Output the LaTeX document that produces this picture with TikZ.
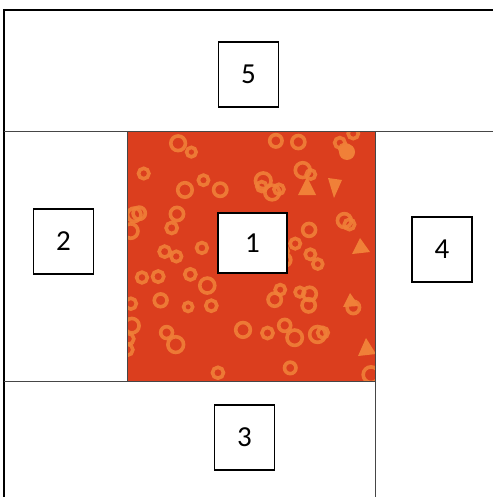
\documentclass[tikz,border=0pt]{standalone}
\usepackage{fontspec}
\setmainfont{Carlito}
\usepackage{tikz}
\usetikzlibrary{positioning}
\usepackage{xcolor}
\definecolor{fabricred}{RGB}{219,62,30}
\definecolor{fabricdot}{RGB}{240,128,56}
\definecolor{seamgray}{RGB}{70,70,70}

\tikzset{
	piece/.style={draw=black, line width=1.4pt, fill=white,
		minimum width=60pt, minimum height=65pt, inner sep=0pt,
		font=\fontsize{29}{33}\selectfont},
	seam/.style={draw=seamgray, line width=1pt}
}

\begin{document}
\begin{tikzpicture}[x=1pt, y=-1pt]
		
		\useasboundingbox (0,0) rectangle (493,497);
		
		% Center fabric
		\fill[fabricred] (127,132) rectangle (375,381);
		\begin{scope}
			\clip (127,132) rectangle (375,381);
			\pgfmathsetseed{11}
			\foreach \i in {1,...,62} {
				\pgfmathsetmacro{\px}{127+248*rnd}
				\pgfmathsetmacro{\py}{132+249*rnd}
				\pgfmathsetmacro{\pr}{4.5+3.5*rnd}
				\draw[fabricdot, line width=3.6pt, opacity=0.9] (\px,\py) circle (\pr);
			}
			% Triangles and hearts
			\fill[fabricdot] (307,177) -- (316,195) -- (298,195) -- cycle;
			\fill[fabricdot] (328,178) -- (342,180) -- (334,198) -- cycle;
			\fill[fabricdot] (360,238) -- (370,252) -- (352,254) -- cycle;
			\fill[fabricdot] (350,293) -- (359,306) -- (343,307) -- cycle;
			\fill[fabricdot] (347,152) circle (8);
			\fill[fabricdot] (366,338) -- (376,354) -- (358,356) -- cycle;
		\end{scope}
		\draw[seam] (127,132) rectangle (375,381);
		
		% Seams
		\draw[black, line width=1.4pt] (3,10) -- (493,10);
		\draw[black, line width=1.4pt] (4,10) -- (4,497);
		\draw[seam] (4,132) -- (493,132);
		\draw[seam] (4,381) -- (375,381);
		\draw[seam] (375,381) -- (375,497);
		
		% Piece numbers
		\node[piece, minimum width=69pt, minimum height=60pt] (p1) at (252.5,243) {1};
		\node[piece] (p2) at (63.5,241.5) {2};
		\node[piece] (p3) at (244.5,437.5) {3};
		\node[piece] (p4) at (442,249.5) {4};
		\node[piece] (p5) at (248.5,74.5) {5};
		
	\end{tikzpicture}
\end{document}
